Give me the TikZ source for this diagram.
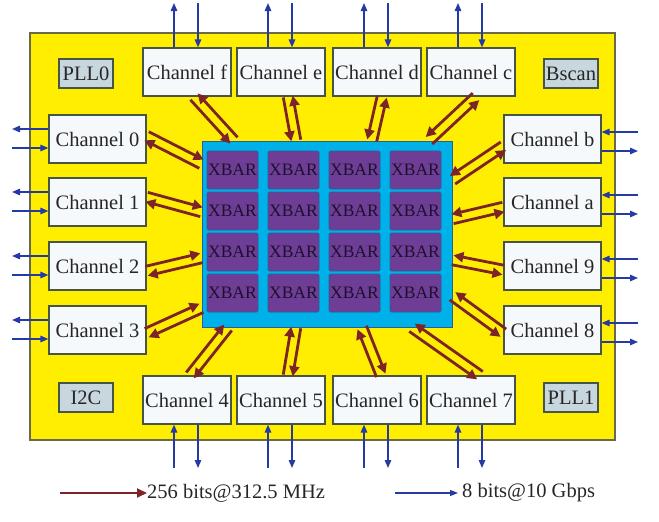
\documentclass[tikz,border=0pt]{standalone}
\usepackage{fontspec}
\setmainfont{Liberation Serif}
\usetikzlibrary{arrows.meta,calc}
\definecolor{chipyellow}{RGB}{255,238,0}
\definecolor{chipedge}{RGB}{105,105,75}
\definecolor{boxedge}{RGB}{70,85,70}
\definecolor{boxfill}{RGB}{246,249,251}
\definecolor{pllfill}{RGB}{200,214,222}
\definecolor{xbarcyan}{RGB}{0,176,232}
\definecolor{cellpurple}{RGB}{110,62,150}
\definecolor{celledge}{RGB}{40,95,150}
\definecolor{busred}{RGB}{125,36,40}
\definecolor{linkblue}{RGB}{38,58,165}
\definecolor{celltext}{RGB}{30,16,45}
\tikzset{
  chan/.style={draw=boxedge, fill=boxfill, line width=1.2pt, minimum width=88pt,
    minimum height=48pt, inner sep=0pt, font=\fontsize{20.5}{24}\selectfont, text=black!85},
  sidechan/.style={chan, minimum width=97pt},
  miscbox/.style={draw=boxedge, fill=pllfill, line width=1.2pt, minimum width=54pt,
    minimum height=29pt, inner sep=0pt, font=\fontsize{20.5}{24}\selectfont, text=black!85},
  cell/.style={draw=celledge, fill=cellpurple, rounded corners=1.5pt, line width=0.8pt,
    minimum width=51pt, minimum height=38pt, inner sep=0pt,
    font=\fontsize{17.5}{20}\selectfont, text=celltext},
  busarrow/.style={draw=busred, line width=2.8pt, -{Triangle[length=10pt,width=10pt]}},
  linkarrow/.style={draw=linkblue, line width=1.4pt, -{Triangle[length=8pt,width=6.5pt]}},
  legendtext/.style={inner sep=0pt, anchor=west, font=\fontsize{20.5}{24}\selectfont, text=black!85},
}
\newcommand\busL[2]{%
  \draw[busarrow] ($(#1)!4.8pt!90:(#2)$) -- ($(#2)!4.8pt!-90:(#1)$);
  \draw[busarrow] ($(#2)!4.8pt!90:(#1)$) -- ($(#1)!4.8pt!-90:(#2)$);}
\newcommand\busR[2]{%
  \draw[busarrow] ($(#1)!4.8pt!-90:(#2)$) -- ($(#2)!4.8pt!90:(#1)$);
  \draw[busarrow] ($(#2)!4.8pt!-90:(#1)$) -- ($(#1)!4.8pt!90:(#2)$);}
\begin{document}
\begin{tikzpicture}[x=1pt,y=-1pt]
\useasboundingbox (0,0) rectangle (659,522);
% chip
\node[draw=chipedge, fill=chipyellow, line width=1.3pt, minimum width=585pt,
  minimum height=407pt, inner sep=0pt] (chip) at (322.5,236.5) {};
% xbar block
\node[draw=celledge, fill=xbarcyan, line width=1pt, minimum width=250pt,
  minimum height=186pt, inner sep=0pt] (xb) at (327,234) {};
\foreach \r/\yy in {1/170,2/211,3/252,4/293}
  \foreach \c/\xx in {1/232.5,2/293.5,3/354.5,4/415.5}
    \node[cell] (cell\r\c) at (\xx,\yy) {XBAR};
% small boxes
\node[miscbox] (pll0) at (86,73.5) {PLL0};
\node[miscbox] (bscan) at (571,73.5) {Bscan};
\node[miscbox] (i2c) at (86,397.5) {I2C};
\node[miscbox] (pll1) at (571,397.5) {PLL1};
% channels top
\node[chan] (cf) at (187,72) {Channel f};
\node[chan] (ce) at (281,72) {Channel e};
\node[chan] (cd) at (377,72) {Channel d};
\node[chan] (cc) at (471,72) {Channel c};
% channels bottom
\node[chan] (c4) at (187,400) {Channel 4};
\node[chan] (c5) at (281,400) {Channel 5};
\node[chan] (c6) at (377,400) {Channel 6};
\node[chan] (c7) at (471,400) {Channel 7};
% channels left
\node[sidechan] (c0) at (97.5,139) {Channel 0};
\node[sidechan] (c1) at (97.5,202) {Channel 1};
\node[sidechan] (c2) at (97.5,266) {Channel 2};
\node[sidechan] (c3) at (97.5,330) {Channel 3};
% channels right
\node[sidechan] (cb) at (552.5,139) {Channel b};
\node[sidechan] (ca) at (552.5,202) {Channel a};
\node[sidechan] (c9) at (552.5,266) {Channel 9};
\node[sidechan] (c8) at (552.5,330) {Channel 8};
% bus endpoints
\coordinate (fA) at ([xshift=7pt]cf.south);  \coordinate (fB) at ([xshift=-93pt]xb.north);
\coordinate (eA) at ([xshift=7pt]ce.south);  \coordinate (eB) at ([xshift=-31pt]xb.north);
\coordinate (dA) at ([xshift=5pt]cd.south);  \coordinate (dB) at ([xshift=45pt]xb.north);
\coordinate (cA) at ([xshift=5pt]cc.south);  \coordinate (cB) at ([xshift=102pt]xb.north);
\coordinate (bA) at ([yshift=-7pt]cb.west);  \coordinate (bB) at ([yshift=54pt]xb.east);
\coordinate (aA) at ([yshift=-5pt]ca.west);  \coordinate (aB) at ([yshift=15pt]xb.east);
\coordinate (nA) at ([yshift=-4pt]c9.west);  \coordinate (nB) at ([yshift=-26pt]xb.east);
\coordinate (gA) at ([yshift=-3pt]c8.west);  \coordinate (gB) at ([yshift=-62pt]xb.east);
\coordinate (sA) at ([xshift=9pt]c7.north);  \coordinate (sB) at ([xshift=85pt]xb.south);
\coordinate (xA) at ([xshift=4pt]c6.north);  \coordinate (xB) at ([xshift=35pt]xb.south);
\coordinate (vA) at ([xshift=7pt]c5.north);  \coordinate (vB) at ([xshift=-31pt]xb.south);
\coordinate (uA) at ([xshift=3pt]c4.north);  \coordinate (uB) at ([xshift=-99pt]xb.south);
\coordinate (tA) at ([yshift=-3pt]c3.east);  \coordinate (tB) at ([yshift=-74pt]xb.west);
\coordinate (wA) at ([yshift=-5pt]c2.east);  \coordinate (wB) at ([yshift=-24pt]xb.west);
\coordinate (oA) at ([yshift=5pt]c1.east);   \coordinate (oB) at ([yshift=22pt]xb.west);
\coordinate (zA) at ([yshift=3pt]c0.east);   \coordinate (zB) at ([yshift=70pt]xb.west);
\busR{fA}{fB} \busR{eA}{eB} \busR{dA}{dB} \busR{cA}{cB}
\busR{bA}{bB} \busR{aA}{aB} \busR{nA}{nB} \busR{gA}{gB} \busR{sA}{sB}
\busL{xA}{xB} \busL{vA}{vB} \busL{uA}{uB}
\busL{tA}{tB} \busL{wA}{wB} \busL{oA}{oB} \busL{zA}{zB}
% serial links
\coordinate (topend) at (0,3);
\coordinate (botend) at (0,468);
\coordinate (leftend) at (12,0);
\coordinate (rightend) at (638,0);
\foreach \n in {cf,ce,cd,cc}{
  \draw[linkarrow] ([xshift=-13pt]\n.north) -- ([xshift=-13pt]\n.north |- topend);
  \draw[linkarrow] ([xshift=11pt]\n.north |- topend) -- ([xshift=11pt]\n.north);}
\foreach \n in {c4,c5,c6,c7}{
  \draw[linkarrow] ([xshift=-13pt]\n.south |- botend) -- ([xshift=-13pt]\n.south);
  \draw[linkarrow] ([xshift=11pt]\n.south) -- ([xshift=11pt]\n.south |- botend);}
\foreach \n in {c0,c1,c2,c3}{
  \draw[linkarrow] ([yshift=10pt]\n.west) -- ([yshift=10pt]\n.west -| leftend);
  \draw[linkarrow] ([yshift=-9pt]\n.west -| leftend) -- ([yshift=-9pt]\n.west);}
\foreach \n in {cb,ca,c9,c8}{
  \draw[linkarrow] ([yshift=7pt]\n.east -| rightend) -- ([yshift=7pt]\n.east);
  \draw[linkarrow] ([yshift=-12pt]\n.east) -- ([yshift=-12pt]\n.east -| rightend);}
% legend
\node[legendtext] (lg1) at (147,493) {256 bits@312.5 MHz};
\node[legendtext] (lg2) at (462,493) {8 bits@10 Gbps};
\coordinate (lg1s) at (60,493);
\coordinate (lg2s) at (395,493);
\draw[draw=busred, line width=1.8pt, -{Triangle[length=10pt,width=9pt]}] (lg1s) -- (lg1.west);
\draw[draw=linkblue, line width=1.3pt, -{Triangle[length=8pt,width=6pt]}] (lg2s) -- ([xshift=-4pt]lg2.west);
\end{tikzpicture}
\end{document}
